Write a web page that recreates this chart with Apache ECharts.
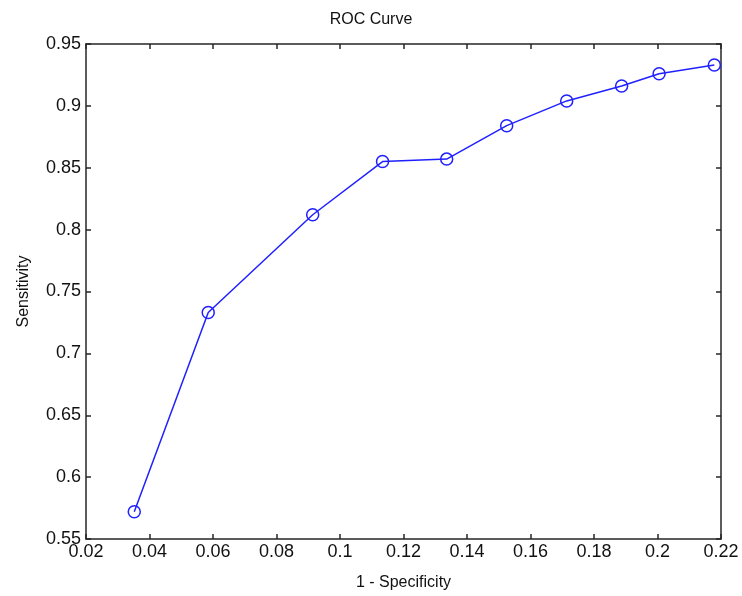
<!DOCTYPE html>
<html>
<head>
<meta charset="utf-8">
<script src="https://cdn.jsdelivr.net/npm/echarts@6/dist/echarts.min.js"></script>
<style>html,body{margin:0;padding:0;background:#fff;}#c{width:742px;height:596px;}</style>
</head>
<body>
<div id="c"></div>
<script>
var fpr = [0.0352, 0.0585, 0.0914, 0.1134, 0.1336, 0.1525, 0.1714, 0.1887, 0.2005, 0.2179];
var sensitivity = [0.572, 0.733, 0.812, 0.855, 0.857, 0.884, 0.904, 0.916, 0.926, 0.933];
var titleText = 'ROC Curve';
var xName = '1 - Specificity';
var yName = 'Sensitivity';

var FONT = '"Liberation Sans Narrow", "Liberation Sans", Arial, sans-serif';
var axisCol = '#262626';
var pts = fpr.map(function (x, i) { return [x, sensitivity[i]]; });

function xAx(pos, show) {
  return {
    type: 'value', position: pos, min: 0.02, max: 0.22, interval: 0.02,
    name: show ? xName : '', nameLocation: 'middle', nameGap: 36,
    nameTextStyle: { fontFamily: FONT, fontSize: 16, color: '#111' },
    axisLine: { show: true, onZero: false, lineStyle: { color: axisCol, width: 1.5 } },
    axisTick: { show: true, inside: true, length: 5, lineStyle: { color: axisCol, width: 1.5 } },
    axisLabel: { show: show, fontFamily: FONT, fontSize: 18, color: '#111', margin: 4,
      formatter: function (v) { return String(+v.toFixed(2)); } },
    splitLine: { show: false }
  };
}
function yAx(pos, show) {
  return {
    type: 'value', position: pos, min: 0.55, max: 0.95, interval: 0.05,
    name: show ? yName : '', nameLocation: 'middle', nameGap: 54,
    nameTextStyle: { fontFamily: FONT, fontSize: 16, color: '#111' },
    axisLine: { show: true, onZero: false, lineStyle: { color: axisCol, width: 1.5 } },
    axisTick: { show: true, inside: true, length: 5, lineStyle: { color: axisCol, width: 1.5 } },
    axisLabel: { show: show, fontFamily: FONT, fontSize: 18, color: '#111', margin: 5,
      formatter: function (v) { return String(+v.toFixed(2)); } },
    splitLine: { show: false }
  };
}

var chart = echarts.init(document.getElementById('c'), null, { renderer: 'canvas' });
chart.setOption({
  backgroundColor: '#fff',
  animation: false,
  title: { text: titleText, left: 'center', top: 7,
    textStyle: { fontFamily: FONT, fontSize: 16, fontWeight: 'normal', color: '#111' } },
  grid: { left: 86, right: 21, top: 44, bottom: 55, containLabel: false },
  xAxis: [xAx('bottom', true), xAx('top', false)],
  yAxis: [yAx('left', true), yAx('right', false)],
  series: [{
    type: 'line', xAxisIndex: 0, yAxisIndex: 0, data: pts,
    symbol: 'circle', symbolSize: 12,
    lineStyle: { color: '#2020ff', width: 1.5 },
    itemStyle: { color: 'rgba(0,0,0,0)', borderColor: '#2020ff', borderWidth: 1.5 },
    clip: false
  }]
});
</script>
</body>
</html>
